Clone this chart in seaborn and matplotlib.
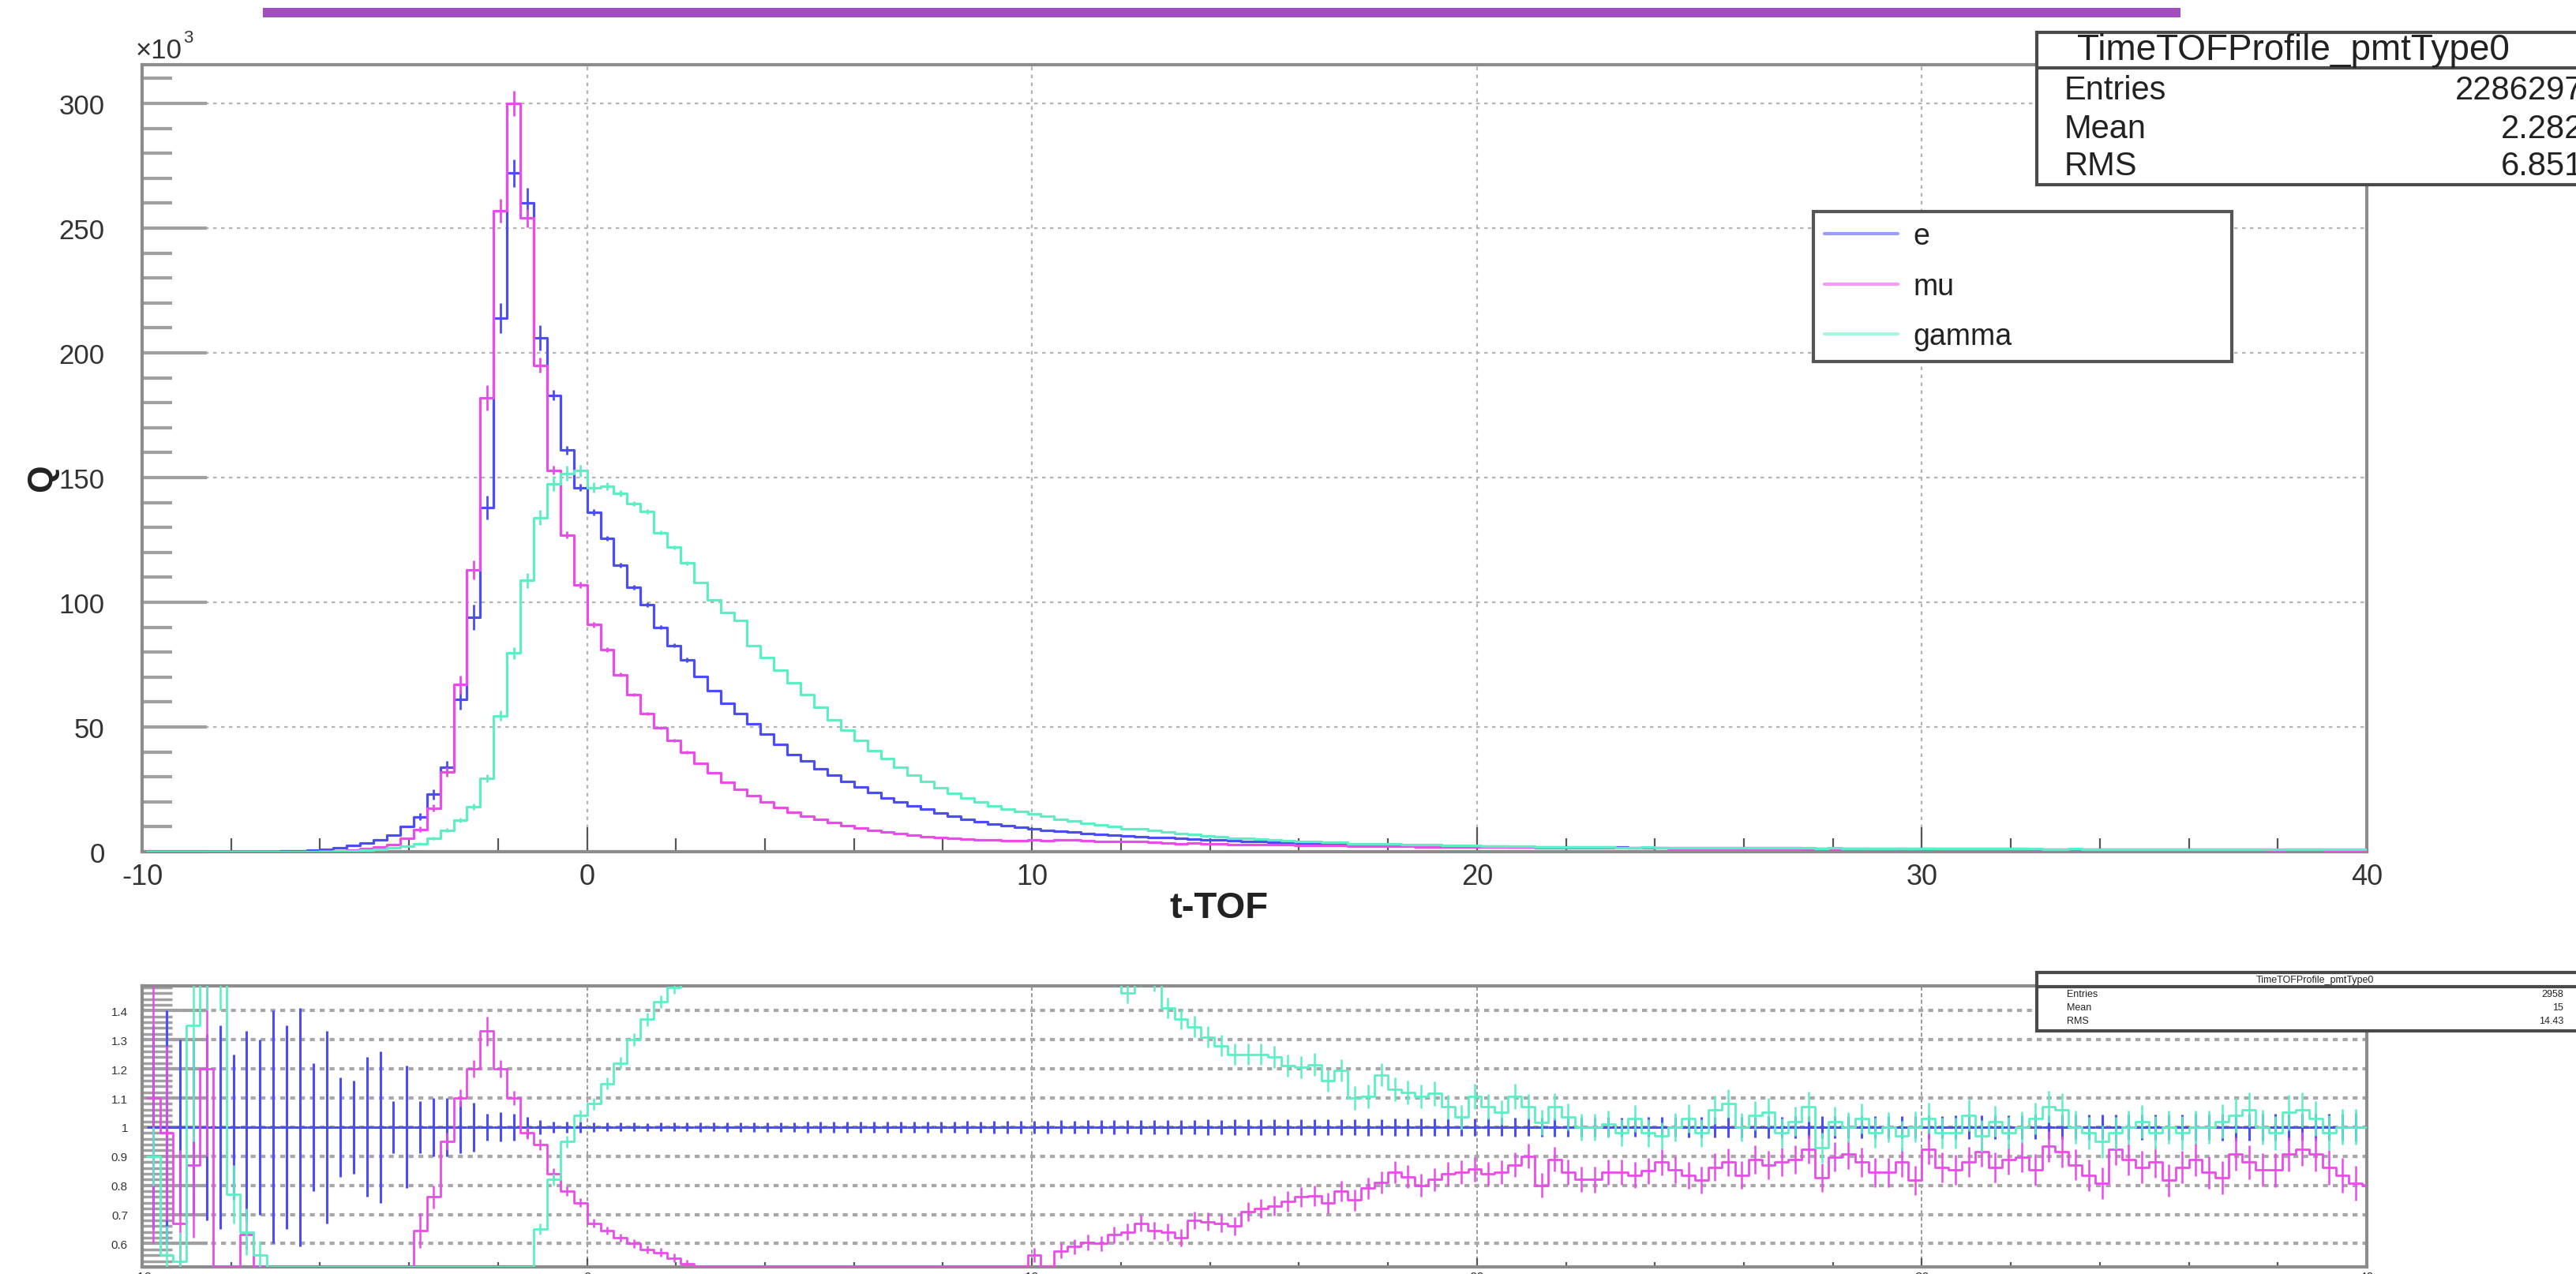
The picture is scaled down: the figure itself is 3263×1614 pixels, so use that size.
import numpy as np
import pandas as pd
import matplotlib
matplotlib.use("Agg")
import matplotlib.pyplot as plt
import seaborn as sns
from matplotlib.lines import Line2D
from matplotlib.patches import Rectangle
from matplotlib.ticker import MultipleLocator, FixedLocator, FuncFormatter

# ------------------------------------------------------------------
# Binning of the t-TOF profiles (bin width 0.3, first edge at -9.9)
# ------------------------------------------------------------------
BIN_LO = -9.9
BIN_W = 0.3
PARTICLES = ["e", "mu", "gamma"]

# Charge Q per bin, in units of 10^3
e_q = [
    0.02, 0.03, 0.03, 0.04, 0.05, 0.06, 0.08, 0.10, 0.12, 0.15,
    0.20, 0.30, 0.50, 1.0, 1.6, 2.4, 3.4, 4.8, 6.8, 10.0,
    14.0, 23.0, 34.0, 61.0, 94.0, 138.0, 214.0, 272.0, 260.0, 206.0,
    183.0, 161.0, 146.0, 136.0, 125.6, 114.9, 106.0, 99.0, 90.0, 82.7,
    76.9, 70.3, 64.5, 59.6, 55.4, 51.3, 47.2, 43.1, 39.0, 36.5,
    33.2, 30.7, 28.2, 26.0, 23.8, 21.6, 20.0, 18.3, 17.0, 15.5,
    14.2, 13.0, 12.0, 11.2, 10.5, 9.9, 9.2, 8.7, 8.2, 7.8,
    7.4, 7.0, 6.7, 6.4, 6.1, 5.8, 5.6, 5.3, 5.1, 4.9,
    4.7, 4.4, 4.2, 4.0, 3.8, 3.65, 3.5, 3.35, 3.2, 3.1,
    3.0, 2.9, 2.8, 2.7, 2.6, 2.5, 2.45, 2.35, 2.3, 2.2,
    2.15, 2.1, 2.05, 2.0, 1.95, 1.9, 1.9, 1.85, 1.8, 1.8,
    1.75, 1.7, 1.7, 1.65, 1.65, 1.6, 1.6, 1.55, 1.55, 1.5,
    1.5, 1.45, 1.45, 1.45, 1.4, 1.4, 1.35, 1.35, 1.35, 1.3,
    1.3, 1.3, 1.25, 1.25, 1.25, 1.2, 1.2, 1.2, 1.15, 1.15,
    1.15, 1.1, 1.1, 1.1, 1.1, 1.05, 1.05, 1.05, 1.0, 1.0,
    1.0, 1.0, 0.98, 0.96, 0.95, 0.94, 0.93, 0.92, 0.91, 0.9,
    0.9, 0.89, 0.88, 0.87, 0.86, 0.85, 0.85,
]
mu_q = [
    0, 0, 0, 0, 0, 0, 0, 0, 0, 0,
    0, 0, 0, 0.2, 0.4, 0.7, 1.2, 1.9, 3.0, 5.5,
    9.0, 17.5, 32.0, 67.0, 113.0, 182.0, 257.0, 300.0, 254.0, 195.0,
    153.0, 127.0, 107.0, 91.0, 81.0, 71.0, 63.0, 55.4, 49.7, 44.7,
    39.8, 35.6, 31.5, 27.7, 24.9, 22.4, 20.0, 17.8, 15.8, 14.2,
    12.9, 11.7, 10.6, 9.6, 8.7, 7.9, 7.3, 6.6, 6.1, 5.6,
    5.3, 5.0, 4.8, 4.6, 4.5, 4.4, 4.6, 4.4, 4.7, 4.6,
    4.5, 4.2, 4.2, 4.1, 4.1, 3.75, 3.6, 3.3, 3.5, 3.3,
    3.15, 2.9, 3.0, 2.9, 2.8, 2.7, 2.65, 2.55, 2.4, 2.4,
    2.25, 2.3, 2.25, 2.3, 2.15, 2.0, 2.0, 2.0, 1.95, 1.9,
    1.8, 1.8, 1.75, 1.75, 1.6, 1.7, 1.6, 1.55, 1.55, 1.5,
    1.5, 1.45, 1.45, 1.45, 1.4, 1.35, 1.3, 1.35, 1.35, 1.25,
    1.35, 1.25, 1.3, 1.3, 1.3, 1.15, 1.2, 1.2, 1.2, 1.1,
    1.1, 1.15, 1.0, 1.15, 1.05, 1.0, 1.05, 1.1, 1.0, 1.0,
    1.05, 0.95, 1.0, 1.0, 0.95, 0.9, 0.85, 0.95, 0.9, 0.85,
    0.9, 0.8, 0.85, 0.85, 0.8, 0.8, 0.85, 0.8, 0.8, 0.75,
    0.8, 0.8, 0.8, 0.75, 0.7, 0.7, 0.7,
]
gamma_q = [
    0, 0, 0, 0, 0, 0, 0, 0, 0, 0,
    0, 0, 0, 0.1, 0.2, 0.3, 0.6, 1.0, 1.5, 2.3,
    3.3, 5.4, 8.6, 12.7, 18.0, 29.4, 54.5, 79.6, 108.8, 133.9,
    147.5, 151.6, 152.7, 146.0, 146.5, 143.7, 139.6, 136.3, 128.0, 122.0,
    115.7, 108.0, 100.8, 95.9, 92.6, 82.7, 77.7, 72.8, 67.8, 62.9,
    57.9, 53.0, 48.8, 44.7, 40.6, 37.3, 34.0, 30.7, 28.2, 25.7,
    23.3, 21.6, 20.0, 18.3, 17.2, 16.2, 15.3, 14.1, 13.1, 12.3,
    11.5, 10.8, 10.2, 9.3, 9.3, 8.7, 7.9, 7.3, 6.9, 6.4,
    6.0, 5.5, 5.25, 5.0, 4.7, 4.4, 4.2, 4.1, 3.7, 3.7,
    3.3, 3.2, 3.3, 3.05, 2.9, 2.75, 2.75, 2.5, 2.4, 2.45,
    2.3, 2.2, 2.25, 2.1, 2.0, 2.0, 1.95, 1.85, 1.8, 1.8,
    1.7, 1.65, 1.75, 1.7, 1.7, 1.65, 1.6, 1.6, 1.65, 1.55,
    1.5, 1.5, 1.5, 1.45, 1.45, 1.4, 1.45, 1.35, 1.4, 1.35,
    1.3, 1.35, 1.25, 1.3, 1.25, 1.25, 1.2, 1.25, 1.15, 1.2,
    1.15, 1.15, 1.1, 1.1, 1.15, 1.05, 1.05, 1.1, 1.0, 1.0,
    1.05, 1.0, 1.0, 0.95, 0.95, 0.95, 0.95, 0.9, 0.9, 0.9,
    0.9, 0.9, 0.9, 0.85, 0.85, 0.85, 0.85,
]

# Statistical errors on the peak bins (first bin index PEAK_ERR_FROM)
PEAK_ERR_FROM = 20
e_err = [1.5, 2.0, 2.5, 4.0, 5.0, 4.7, 6.0, 5.5, 6.0, 5.0, 2.0,
         1.8, 1.5, 1.2, 1.0, 1.0, 0.9, 0.9, 0.8, 0.8, 0.8]
mu_err = [1.2, 1.5, 2.0, 3.7, 3.7, 5.0, 4.7, 5.0, 3.7, 3.0, 1.8,
          1.5, 1.2, 1.0, 0.9, 0.8, 0.7, 0.7, 0.6, 0.6, 0.6]
gamma_err = [0.5, 0.6, 0.8, 1.0, 1.2, 1.5, 2.0, 2.5, 3.0, 3.0, 3.0,
             3.0, 2.5, 2.0, 1.5, 1.2, 1.0, 1.0, 0.9, 0.8, 0.8]

# Ratios to the e profile
mu_ratio = [
    1.1, 0.98, 0.67, 0.87, 1.2, 0.0, 0.0, 0.63, 0.0, 0.0,
    0, 0, 0, 0, 0, 0, 0, 0, 0, 0,
    0.645, 0.76, 0.95, 1.1, 1.2, 1.33, 1.2, 1.1, 0.98, 0.94,
    0.84, 0.78, 0.74, 0.67, 0.645, 0.62, 0.6, 0.58, 0.57, 0.55,
    0.53, 0.5, 0.49, 0.47, 0.45, 0.44, 0.43, 0.42, 0.41, 0.4,
    0.39, 0.38, 0.38, 0.37, 0.37, 0.37, 0.37, 0.37, 0.38, 0.38,
    0.39, 0.4, 0.41, 0.43, 0.45, 0.48, 0.56, 0.5, 0.575, 0.59,
    0.605, 0.6, 0.63, 0.64, 0.67, 0.645, 0.64, 0.62, 0.68, 0.675,
    0.67, 0.66, 0.71, 0.72, 0.73, 0.745, 0.76, 0.765, 0.74, 0.78,
    0.75, 0.79, 0.81, 0.845, 0.83, 0.8, 0.82, 0.84, 0.845, 0.855,
    0.84, 0.845, 0.87, 0.9, 0.8, 0.89, 0.845, 0.82, 0.82, 0.845,
    0.845, 0.835, 0.85, 0.88, 0.853, 0.835, 0.817, 0.862, 0.88, 0.835,
    0.889, 0.87, 0.88, 0.889, 0.925, 0.826, 0.898, 0.907, 0.88, 0.844,
    0.844, 0.88, 0.817, 0.925, 0.862, 0.853, 0.88, 0.916, 0.862, 0.889,
    0.898, 0.853, 0.934, 0.916, 0.871, 0.835, 0.808, 0.925, 0.889, 0.862,
    0.88, 0.817, 0.862, 0.889, 0.844, 0.826, 0.907, 0.88, 0.853, 0.853,
    0.907, 0.925, 0.907, 0.862, 0.835, 0.808, 0.8,
]
gamma_ratio = [
    0.9, 0.56, 0.54, 1.35, 1.9, 1.9, 0.77, 0.64, 0.56, 0.0,
    0, 0, 0, 0, 0, 0, 0, 0, 0, 0,
    0.24, 0.23, 0.25, 0.21, 0.19, 0.21, 0.25, 0.29, 0.42, 0.65,
    0.82, 0.95, 1.04, 1.08, 1.15, 1.22, 1.3, 1.37, 1.43, 1.48,
    1.53, 1.55, 1.58, 1.6, 1.65, 1.62, 1.65, 1.69, 1.74, 1.72,
    1.74, 1.73, 1.73, 1.72, 1.7, 1.73, 1.7, 1.68, 1.66, 1.66,
    1.64, 1.66, 1.67, 1.63, 1.64, 1.64, 1.66, 1.62, 1.6, 1.58,
    1.56, 1.54, 1.52, 1.46, 1.52, 1.5, 1.41, 1.37, 1.345, 1.31,
    1.28, 1.25, 1.25, 1.25, 1.24, 1.21, 1.205, 1.215, 1.16, 1.195,
    1.1, 1.105, 1.18, 1.13, 1.12, 1.105, 1.115, 1.07, 1.035, 1.106,
    1.07, 1.05, 1.106, 1.07, 1.016, 1.07, 1.035, 1.0, 1.0, 1.01,
    0.98, 1.03, 0.98, 0.97, 1.0, 1.03, 0.98, 1.06, 1.08, 1.0,
    1.04, 1.05, 0.98, 1.02, 1.07, 0.93, 1.02, 1.0, 1.03, 0.98,
    1.0, 0.97, 1.0, 1.03, 0.98, 0.98, 1.04, 0.97, 1.02, 0.98,
    1.0, 1.03, 1.07, 1.06, 1.0, 0.98, 0.95, 0.98, 1.0, 1.02,
    0.98, 1.0, 0.98, 1.0, 1.0, 1.02, 1.04, 1.06, 1.0, 0.98,
    1.05, 1.06, 1.03, 0.98, 1.0, 1.0, 1.0,
]
e_ratio_err = [
    0.35, 0.40, 0.30, 0.30, 0.32, 0.35, 0.25, 0.33, 0.30, 0.40,
    0.35, 0.41, 0.22, 0.33, 0.17, 0.16, 0.24, 0.26, 0.09, 0.21,
    0.09, 0.10, 0.10, 0.09, 0.085, 0.045, 0.05, 0.045, 0.035, 0.025,
    0.02, 0.02, 0.018, 0.016, 0.015, 0.015, 0.015, 0.014, 0.015, 0.015,
    0.015, 0.016, 0.015, 0.016, 0.016, 0.017, 0.016, 0.017, 0.017, 0.018,
    0.018, 0.018, 0.019, 0.018, 0.019, 0.019, 0.02, 0.019, 0.02, 0.02,
    0.02, 0.021, 0.02, 0.021, 0.022, 0.021, 0.022, 0.022, 0.023, 0.022,
    0.023, 0.023, 0.024, 0.023, 0.024, 0.025, 0.024, 0.025, 0.025, 0.026,
    0.025, 0.026, 0.026, 0.027, 0.026, 0.027, 0.027, 0.028, 0.027, 0.028,
    0.028, 0.029, 0.028, 0.029, 0.03, 0.029, 0.03, 0.03, 0.031, 0.03,
    0.031, 0.031, 0.032, 0.031, 0.032, 0.033, 0.032, 0.033, 0.033, 0.034,
    0.033, 0.034, 0.034, 0.035, 0.034, 0.035, 0.035, 0.036, 0.035, 0.036,
    0.036, 0.037, 0.036, 0.037, 0.037, 0.038, 0.037, 0.038, 0.038, 0.039,
    0.038, 0.039, 0.039, 0.04, 0.039, 0.04, 0.04, 0.041, 0.04, 0.041,
    0.041, 0.042, 0.041, 0.042, 0.042, 0.043, 0.042, 0.043, 0.043, 0.044,
    0.043, 0.044, 0.044, 0.045, 0.044, 0.045, 0.045, 0.046, 0.045, 0.046,
    0.046, 0.047, 0.046, 0.047, 0.047, 0.048, 0.048,
]
mu_ratio_err = [
    0.5, 0.3, 0.25, 0.25, 0.3, 0, 0, 0.05, 0, 0,
    0, 0, 0, 0, 0, 0, 0, 0, 0, 0,
    0.06, 0.04, 0.03, 0.03, 0.03, 0.05, 0.03, 0.025, 0.02, 0.02,
    0.018, 0.016, 0.015, 0.015, 0.014, 0.014, 0.014, 0.014, 0.015, 0.015,
    0.015, 0.015, 0.016, 0.016, 0.016, 0.017, 0.017, 0.017, 0.018, 0.018,
    0.018, 0.019, 0.019, 0.019, 0.02, 0.02, 0.02, 0.021, 0.021, 0.021,
    0.022, 0.022, 0.023, 0.023, 0.024, 0.024, 0.025, 0.025, 0.026, 0.026,
    0.027, 0.027, 0.028, 0.028, 0.029, 0.029, 0.03, 0.03, 0.031, 0.031,
    0.032, 0.032, 0.033, 0.033, 0.034, 0.034, 0.035, 0.035, 0.036, 0.036,
    0.037, 0.037, 0.038, 0.038, 0.039, 0.039, 0.04, 0.04, 0.04, 0.041,
    0.041, 0.041, 0.042, 0.042, 0.042, 0.043, 0.043, 0.043, 0.044, 0.044,
    0.044, 0.045, 0.045, 0.045, 0.046, 0.046, 0.046, 0.047, 0.047, 0.047,
    0.048, 0.048, 0.048, 0.049, 0.049, 0.049, 0.05, 0.05, 0.05, 0.05,
    0.051, 0.05, 0.051, 0.052, 0.051, 0.052, 0.052, 0.053, 0.052, 0.053,
    0.053, 0.054, 0.053, 0.054, 0.054, 0.055, 0.054, 0.055, 0.055, 0.056,
    0.055, 0.056, 0.056, 0.057, 0.056, 0.057, 0.057, 0.058, 0.057, 0.058,
    0.058, 0.059, 0.058, 0.059, 0.059, 0.06, 0.06,
]
gamma_ratio_err = [
    0.1, 0.1, 0.1, 0.4, 0.5, 0.5, 0.1, 0.08, 0.05, 0,
    0, 0, 0, 0, 0, 0, 0, 0, 0, 0,
    0.01, 0.01, 0.01, 0.01, 0.01, 0.01, 0.01, 0.01, 0.01, 0.02,
    0.02, 0.02, 0.02, 0.02, 0.02, 0.02, 0.022, 0.022, 0.022, 0.023,
    0.023, 0.023, 0.024, 0.024, 0.024, 0.025, 0.025, 0.025, 0.026, 0.026,
    0.026, 0.027, 0.027, 0.027, 0.028, 0.028, 0.028, 0.029, 0.029, 0.029,
    0.03, 0.03, 0.03, 0.031, 0.031, 0.031, 0.032, 0.032, 0.032, 0.033,
    0.033, 0.033, 0.034, 0.034, 0.034, 0.035, 0.035, 0.035, 0.036, 0.036,
    0.036, 0.037, 0.037, 0.037, 0.038, 0.038, 0.038, 0.039, 0.039, 0.039,
    0.04, 0.04, 0.04, 0.041, 0.041, 0.041, 0.042, 0.042, 0.042, 0.043,
    0.043, 0.043, 0.044, 0.044, 0.044, 0.045, 0.045, 0.045, 0.046, 0.046,
    0.046, 0.047, 0.047, 0.047, 0.048, 0.048, 0.048, 0.049, 0.049, 0.049,
    0.05, 0.05, 0.05, 0.05, 0.051, 0.051, 0.051, 0.051, 0.052, 0.052,
    0.052, 0.052, 0.053, 0.053, 0.053, 0.053, 0.054, 0.054, 0.054, 0.054,
    0.055, 0.055, 0.055, 0.055, 0.056, 0.056, 0.056, 0.056, 0.057, 0.057,
    0.057, 0.057, 0.058, 0.058, 0.058, 0.058, 0.059, 0.059, 0.059, 0.059,
    0.06, 0.06, 0.06, 0.06, 0.061, 0.061, 0.061,
]

# Stats boxes
STAT_TITLE = "TimeTOFProfile_pmtType0"
STAT_LABELS = ["Entries", "Mean", "RMS"]
STAT_VALUES = ["2286297", "2.282", "6.851"]
RATIO_STAT_VALUES = ["2958", "15", "14.43"]

COLORS = {"e": "#4b4bff", "mu": "#ea4bea", "gamma": "#5cefc6"}
LEGEND_COLORS = {"e": "#9d9dff", "mu": "#f29cf5", "gamma": "#a8f5dd"}

# ------------------------------------------------------------------
sns.set_theme(style="white")
plt.rcParams["font.family"] = ["Liberation Sans", "DejaVu Sans"]
plt.rcParams["axes.unicode_minus"] = False

W_PX, H_PX, DPI = 3263, 1615, 100
fig = plt.figure(figsize=(W_PX / DPI, H_PX / DPI), dpi=DPI)


def fx(px):
    return px / W_PX


def fy(py):
    return 1 - py / H_PX


AX_L, AX_R = 180, 2998
ax = fig.add_axes([fx(AX_L), fy(1080), fx(AX_R) - fx(AX_L), fy(83) - fy(1080)])
axr = fig.add_axes([fx(AX_L), fy(1606), fx(AX_R) - fx(AX_L), fy(1250) - fy(1606)])

n_bins = len(e_q)
edges = BIN_LO + BIN_W * np.arange(n_bins + 1)
centers = edges[:-1] + BIN_W / 2
bin_edges = list(edges)

q_values = {"e": np.array(e_q), "mu": np.array(mu_q), "gamma": np.array(gamma_q)}
peak_errs = {"e": e_err, "mu": mu_err, "gamma": gamma_err}

df = pd.DataFrame({
    "t": np.tile(centers, 3),
    "Q": np.concatenate([q_values[p] for p in PARTICLES]),
    "particle": np.repeat(PARTICLES, n_bins),
})

RATIO_LO, RATIO_HI = 0.52, 1.485
ratio_values = {
    "e": q_values["e"] / q_values["e"],
    "mu": np.array(mu_ratio),
    "gamma": np.array(gamma_ratio),
}
ratio_errs = {"e": e_ratio_err, "mu": mu_ratio_err, "gamma": gamma_ratio_err}
# values under the range sit on the lower frame; values over it leave the frame
df_r = pd.DataFrame({
    "t": np.tile(centers, 3),
    "ratio": np.concatenate([np.clip(ratio_values[p], RATIO_LO, RATIO_HI + 0.2)
                             for p in PARTICLES]),
    "particle": np.repeat(PARTICLES, n_bins),
})

# ---- main panel: step histograms with error crosses ----
for p in PARTICLES:
    sns.histplot(data=df[df["particle"] == p], x="t", weights="Q", bins=bin_edges,
                 element="step", fill=False, color=COLORS[p], linewidth=2.3,
                 ax=ax, zorder=3)
    sl = slice(PEAK_ERR_FROM, PEAK_ERR_FROM + len(peak_errs[p]))
    ax.errorbar(centers[sl], q_values[p][sl], yerr=peak_errs[p], fmt="none",
                ecolor=COLORS[p], elinewidth=2.0, capsize=0, zorder=3)

ax.set_xlim(-10, 40)
ax.set_ylim(0, 315.5)
ax.set_xlabel("")
ax.set_ylabel("")
ax.set_axisbelow(True)

ax.xaxis.set_major_locator(MultipleLocator(10))
ax.xaxis.set_minor_locator(MultipleLocator(2))
ax.yaxis.set_major_locator(MultipleLocator(50))
ax.yaxis.set_minor_locator(MultipleLocator(10))
ax.xaxis.set_major_formatter(FuncFormatter(lambda v, _: f"{v:.0f}"))
ax.yaxis.set_major_formatter(FuncFormatter(lambda v, _: f"{v:.0f}"))
ax.tick_params(axis="x", which="major", direction="in", length=22, width=1.6,
               color="#555555", labelsize=26, pad=10, labelcolor="#333333",
               bottom=True, top=False)
ax.tick_params(axis="x", which="minor", direction="in", length=12, width=1.6,
               color="#555555", bottom=True, top=False)
ax.tick_params(axis="y", which="major", direction="in", length=59, width=3,
               color="#a0a0a0", labelsize=25, pad=34, labelcolor="#333333",
               left=True, right=False)
ax.tick_params(axis="y", which="minor", direction="in", length=27, width=3,
               color="#a0a0a0", left=True, right=False)
ax.grid(True, which="major", axis="both", color="#b4b4b4", linewidth=1.6,
        linestyle=(0, (2, 2.5)))
for s in ax.spines.values():
    s.set_color("#8c8c8c")
    s.set_linewidth(3)

# ---- ratio panel ----
axr.errorbar(centers, ratio_values["e"], xerr=BIN_W / 2, yerr=ratio_errs["e"],
             fmt="none", ecolor=COLORS["e"], elinewidth=2.2, capsize=0, zorder=3)
for p in ["mu", "gamma"]:
    sns.histplot(data=df_r[df_r["particle"] == p], x="t", weights="ratio",
                 bins=bin_edges, element="step", fill=False, color=COLORS[p],
                 linewidth=2.0, ax=axr, zorder=4)
    axr.errorbar(centers, ratio_values[p], yerr=ratio_errs[p], fmt="none",
                 ecolor=COLORS[p], elinewidth=1.8, capsize=0, zorder=4)

axr.set_xlim(-10, 40)
axr.set_ylim(RATIO_LO, RATIO_HI)
axr.set_xlabel("")
axr.set_ylabel("")
axr.set_axisbelow(True)
axr.xaxis.set_major_locator(MultipleLocator(10))
axr.xaxis.set_minor_locator(MultipleLocator(2))
axr.yaxis.set_major_locator(FixedLocator(np.round(np.arange(0.6, 1.41, 0.1), 1)))
axr.yaxis.set_minor_locator(MultipleLocator(0.02))
axr.yaxis.set_major_formatter(FuncFormatter(lambda v, _: f"{v:g}"))
axr.xaxis.set_major_formatter(FuncFormatter(lambda v, _: f"{v:.0f}"))
axr.tick_params(axis="y", which="major", direction="in", length=60, width=3,
                color="#a0a0a0", labelsize=11, pad=13, labelcolor="#333333",
                left=True, right=False)
axr.tick_params(axis="y", which="minor", direction="in", length=27, width=2.5,
                color="#a0a0a0", left=True, right=False)
axr.tick_params(axis="x", which="major", direction="in", length=8, width=1.6,
                color="#555555", labelsize=12, pad=4, labelcolor="#333333",
                bottom=True, top=False)
axr.tick_params(axis="x", which="minor", direction="in", length=4, width=1.6,
                color="#555555", bottom=True, top=False)
axr.yaxis.grid(True, which="major", color="#a8a8a8", linewidth=3,
               linestyle=(0, (1.5, 1.5)))
axr.xaxis.grid(True, which="major", color="#8a8a8a", linewidth=1.2,
               linestyle=(0, (3, 2)))
for s in axr.spines.values():
    s.set_color("#8c8c8c")
    s.set_linewidth(3)

# ---- titles and labels ----
fig.text(fx(1544), fy(1151), "t-TOF", ha="center", va="center", fontsize=34,
         fontweight="bold", color="#222222")
fig.text(fx(54), fy(606), "Q", ha="center", va="center", fontsize=32,
         fontweight="bold", rotation=90, color="#222222")
fig.text(fx(172), fy(64), "\u00d710", ha="left", va="center", fontsize=25,
         color="#333333")
fig.text(fx(232), fy(48), "3", ha="left", va="center", fontsize=16,
         color="#333333")

# banner stripe above the frame
fig.add_artist(Rectangle((fx(333), fy(23)), fx(2762) - fx(333), fy(11) - fy(23),
                         transform=fig.transFigure, facecolor="#a24cbd",
                         edgecolor="none", zorder=5))

# ---- legend ----
handles = [Line2D([], [], color=LEGEND_COLORS[p], linewidth=3) for p in PARTICLES]
leg = fig.legend(handles, PARTICLES, loc="upper left",
                 bbox_to_anchor=(fx(2297), fy(457), fx(2827) - fx(2297), fy(269) - fy(457)),
                 mode="expand", borderaxespad=0, fontsize=27, handlelength=2.5,
                 handletextpad=0.5, labelspacing=0.73, borderpad=0.36,
                 frameon=True, fancybox=False, edgecolor="#555555", framealpha=1)
leg.get_frame().set_linewidth(3)
for t in leg.get_texts():
    t.set_color("#222222")


# ---- stats boxes ----
def stats_box(x0, y_top, y_div, y_bot, title_xy, rows_y, label_x, value_x,
              values, title_size, size, lw):
    fig.add_artist(Rectangle((fx(x0), fy(y_bot)), fx(3330) - fx(x0), fy(y_top) - fy(y_bot),
                             transform=fig.transFigure, facecolor="white",
                             edgecolor="#4a4a4a", linewidth=lw, zorder=6))
    fig.add_artist(Line2D([fx(x0), fx(3330)], [fy(y_div), fy(y_div)],
                          transform=fig.transFigure, color="#4a4a4a",
                          linewidth=lw, zorder=7))
    fig.text(fx(title_xy[0]), fy(title_xy[1]), STAT_TITLE, ha="center",
             va="center", fontsize=title_size, color="#222222", zorder=8)
    for lab, val, yy in zip(STAT_LABELS, values, rows_y):
        fig.text(fx(label_x), fy(yy), lab, ha="left", va="center",
                 fontsize=size, color="#222222", zorder=8)
        fig.text(fx(value_x), fy(yy), val, ha="right", va="center",
                 fontsize=size, color="#222222", zorder=8)


stats_box(2580, 42, 87, 235, (2905, 64), (115, 164, 211), 2615, 3272,
          STAT_VALUES, 33, 30, 3)
stats_box(2580, 1233, 1251, 1307, (2932, 1242), (1260, 1277, 1294), 2618, 3247,
          RATIO_STAT_VALUES, 9, 9, 3)

fig.savefig("out.png", dpi=DPI)
